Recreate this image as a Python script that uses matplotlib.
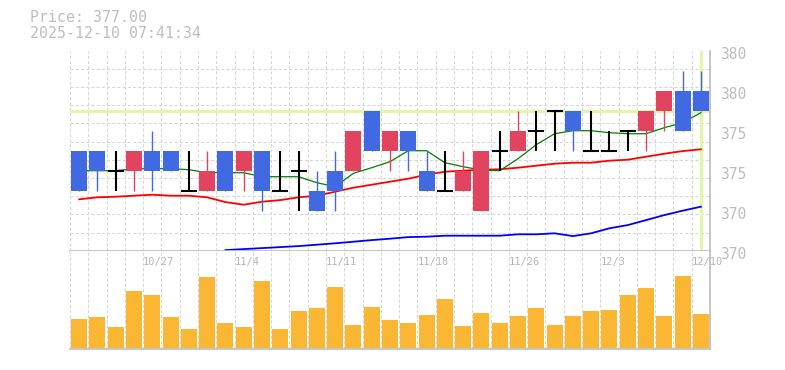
import numpy as np
import matplotlib
matplotlib.use("Agg")
import matplotlib.pyplot as plt
import matplotlib.transforms as mtrans

# daily candles 10/21 .. 12/10
dates = ["10/21", "10/22", "10/23", "10/24", "10/27", "10/28", "10/29", "10/30", "10/31",
         "11/4", "11/5", "11/6", "11/7", "11/10", "11/11", "11/12", "11/13", "11/14",
         "11/17", "11/18", "11/19", "11/20", "11/21", "11/25", "11/26", "11/27", "11/28",
         "12/1", "12/2", "12/3", "12/4", "12/5", "12/8", "12/9", "12/10"]
o = [375, 375, 374, 374, 375, 375, 373, 373, 375, 374, 375, 373, 374, 373, 374, 374, 377, 375,
     376, 374, 373, 373, 372, 375, 375, 376, 377, 377, 375, 375, 376, 376, 377, 378, 378]
h = [375, 375, 375, 375, 376, 375, 375, 375, 375, 375, 375, 375, 375, 374, 375, 376, 377, 376,
     376, 375, 375, 375, 375, 376, 377, 377, 377, 377, 377, 376, 376, 377, 378, 379, 379]
l = [373, 373, 373, 373, 373, 374, 373, 373, 373, 373, 372, 373, 372, 372, 372, 374, 375, 374,
     374, 373, 373, 373, 372, 374, 375, 375, 375, 375, 375, 375, 375, 375, 376, 376, 377]
c = [373, 374, 374, 375, 374, 374, 373, 374, 373, 375, 373, 373, 374, 372, 373, 376, 375, 376,
     375, 373, 373, 374, 375, 375, 376, 376, 377, 376, 375, 375, 376, 377, 378, 376, 377]
vol = [29, 31, 21, 57, 53, 31, 19, 71, 25, 21, 67, 19, 37, 40, 61, 23, 41, 28,
       25, 33, 49, 22, 35, 25, 32, 40, 23, 32, 37, 38, 53, 60, 32, 72, 34]
ma5 = [374.0, 374.0, 374.0, 374.1, 374.1, 374.1, 374.05, 373.9, 373.9, 373.9, 373.7, 373.7,
       373.7, 373.4, 373.2, 373.87, 374.15, 374.45, 375.0, 375.0, 374.4, 374.2, 374.03, 374.0,
       374.6, 375.3, 375.85, 376.0, 376.0, 375.9, 375.85, 375.85, 376.15, 376.4, 376.9]
ma25 = [372.57, 372.67, 372.7, 372.75, 372.8, 372.75, 372.75, 372.67, 372.43, 372.3, 372.45,
        372.53, 372.67, 372.75, 372.95, 373.15, 373.3, 373.45, 373.6, 373.8, 373.95, 374.0,
        374.05, 374.07, 374.15, 374.25, 374.35, 374.4, 374.4, 374.5, 374.55, 374.7, 374.85,
        374.98, 375.07]
ma75 = [np.nan] * 8 + [370.03, 370.08, 370.13, 370.18, 370.23, 370.3, 370.37, 370.45, 370.53,
                       370.6, 370.68, 370.7, 370.75, 370.75, 370.75, 370.75, 370.82, 370.82,
                       370.87, 370.73, 370.87, 371.12, 371.28, 371.53, 371.78, 372.0, 372.2]
price_ticks = [370, 372, 374, 376, 378, 380]
price_labels = ["370", "370", "375", "375", "380", "380"]
last_price = 377.0

UP = "#e2435f"
DOWN = "#4169e1"
GRID = "#d6d6d6"
TXT = "#bdbdbd"
LIME = "#e2f5a8"

fig = plt.figure(figsize=(7.85, 3.70), dpi=100)
W, H = 785, 370
ax = fig.add_axes([70 / W, (H - 250.7) / H, 640 / W, 200 / H])
axv = fig.add_axes([70 / W, (H - 349.3) / H, 640 / W, 98.6 / H])

x = np.arange(len(dates))
bw = 0.875

for a in (ax, axv):
    a.set_xlim(-0.5, len(dates) - 0.5)
    a.set_xticks(np.arange(-0.5, len(dates), 1), minor=True)
    a.set_xticks([])
    a.grid(which="minor", axis="x", color=GRID, lw=0.75, ls=(0, (3, 2)))
    a.tick_params(which="both", length=0, labelbottom=False)
    for s in ("top", "left"):
        a.spines[s].set_visible(False)
    for s in ("right", "bottom"):
        a.spines[s].set_color("#bbbbbb")
        a.spines[s].set_linewidth(1.2)
    a.set_axisbelow(True)

# price panel
ax.set_ylim(370, 380)
ax.set_yticks(np.linspace(370, 380, 12), minor=True)
ax.grid(which="minor", axis="y", color=GRID, lw=0.75, ls=(0, (3, 2)))
ax.yaxis.tick_right()
ax.set_yticks(price_ticks)
ax.set_yticklabels(price_labels, family="DejaVu Sans Mono", fontsize=10.5, color=TXT)
ax.tick_params(axis="y", which="both", length=0, pad=7)
shift = mtrans.ScaledTranslation(0, -2 / 100, fig.dpi_scale_trans)
for lab in ax.get_yticklabels():
    lab.set_transform(lab.get_transform() + shift)

ax.axhline(last_price, color=LIME, lw=2.2, zorder=1.5)
ax.axvline(x[-1], ymin=0.005, ymax=0.995, color=LIME, lw=2.2, zorder=1.5)

ax.plot(x, ma75, color="#0000ff", lw=1.3, zorder=2)
ax.plot(x, ma25, color="#ff0000", lw=1.3, zorder=2)
ax.plot(x, ma5, color="#008000", lw=0.9, zorder=2)

for i in x:
    if c[i] == o[i]:
        ax.vlines(i, l[i], h[i], color="black", lw=1.5, zorder=3)
        ax.hlines(o[i], i - bw / 2, i + bw / 2, color="black", lw=1.5, zorder=3)
        continue
    col = UP if c[i] > o[i] else DOWN
    ax.vlines(i, l[i], h[i], color=col, lw=1.0, zorder=3)
    ax.bar(i, abs(c[i] - o[i]), bottom=min(o[i], c[i]), width=bw, color=col, zorder=4)

# volume panel
axv.bar(x, vol, width=bw, bottom=1, color="#fbb634", zorder=2)
axv.set_ylim(0, 98.6)
axv.set_yticks([])

tr = mtrans.blended_transform_factory(axv.transData, axv.transAxes)
for i in range(4, len(dates), 5):
    axv.text(i - 0.5, 0.882, dates[i], transform=tr, ha="left", va="center",
             family="DejaVu Sans Mono", fontsize=7.5, color="#b5b5b5", zorder=5)

fig.text(30 / W, 1 - 17 / H, "Price: %.2f" % last_price, family="DejaVu Sans Mono",
         fontsize=10.7, color=TXT, ha="left", va="center")
fig.text(30 / W, 1 - 33.5 / H, "2025-12-10 07:41:34", family="DejaVu Sans Mono",
         fontsize=10.7, color=TXT, ha="left", va="center")

fig.savefig("out.png", dpi=100)
